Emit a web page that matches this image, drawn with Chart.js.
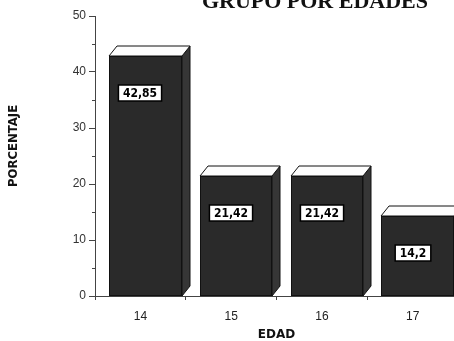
<!DOCTYPE html>
<html>
<head>
<meta charset="utf-8">
<script src="https://cdn.jsdelivr.net/npm/chart.js@4.4.1/dist/chart.umd.min.js"></script>
<style>
  html, body { margin: 0; padding: 0; background: #fff; overflow: hidden; width: 454px; height: 341px; }
  #wrap { position: absolute; left: 0; top: 0; width: 470px; height: 341px; }
</style>
</head>
<body>
<div id="wrap"><canvas id="c" width="470" height="341"></canvas></div>
<script>
// Edades y porcentaje de cada grupo
const edades = ['14', '15', '16', '17'];
const porcentajes = [42.85, 21.42, 21.42, 14.2];
const marcasY = [0, 10, 20, 30, 40, 50];
const marcasMenoresY = [5, 15, 25, 35, 45];
const titulo = 'GRUPO POR EDADES';
const tituloEjeY = 'PORCENTAJE';
const tituloEjeX = 'EDAD';

const fmt = v => String(v).replace('.', ',');

// Barras con cara frontal, superior y lateral, y la etiqueta de valor
const barras3D = {
  id: 'barras3D',
  afterDatasetsDraw(chart) {
    const ctx = chart.ctx;
    const meta = chart.getDatasetMeta(0);
    const dx = 8, dy = 10, shift = 5;
    meta.data.forEach((bar, i) => {
      const { x, y, base, width } = bar.getProps(['x', 'y', 'base', 'width'], true);
      const l = Math.round(x - width / 2 + shift), r = Math.round(x + width / 2 + shift);
      const t = Math.round(y), b = Math.round(base);
      ctx.save();
      ctx.lineWidth = 1;
      ctx.strokeStyle = '#111';
      // lateral
      ctx.beginPath();
      ctx.moveTo(r, t); ctx.lineTo(r + dx, t - dy); ctx.lineTo(r + dx, b - dy); ctx.lineTo(r, b);
      ctx.closePath();
      ctx.fillStyle = '#363636'; ctx.fill(); ctx.stroke();
      // frente
      ctx.fillStyle = '#2a2a2a';
      ctx.fillRect(l, t, r - l, b - t);
      ctx.strokeRect(l + 0.5, t + 0.5, r - l - 1, b - t - 1);
      // tapa
      ctx.beginPath();
      ctx.moveTo(l, t); ctx.lineTo(r, t); ctx.lineTo(r + dx, t - dy); ctx.lineTo(l + dx, t - dy);
      ctx.closePath();
      ctx.fillStyle = '#fdfdfd'; ctx.fill(); ctx.stroke();
      // etiqueta
      const txt = fmt(porcentajes[i]);
      ctx.font = 'bold 12px "Liberation Sans Narrow", "DejaVu Sans Condensed", sans-serif';
      const w = ctx.measureText(txt).width + 9, h = 16;
      const cx = Math.round(x), cy = t + 37;
      ctx.fillStyle = '#fff';
      ctx.fillRect(cx - w / 2, cy - h / 2, w, h);
      ctx.lineWidth = 1.5; ctx.strokeStyle = '#000';
      ctx.strokeRect(cx - w / 2, cy - h / 2, w, h);
      ctx.fillStyle = '#000';
      ctx.textAlign = 'center'; ctx.textBaseline = 'middle';
      ctx.fillText(txt, cx, cy + 1);
      ctx.restore();
    });
  }
};

// Títulos y marcas menores del eje vertical
const textos = {
  id: 'textos',
  afterDraw(chart) {
    const ctx = chart.ctx;
    const ys = chart.scales.y;
    const area = chart.chartArea;
    ctx.save();
    ctx.strokeStyle = '#444'; ctx.lineWidth = 1;
    marcasMenoresY.forEach(v => {
      const py = Math.round(ys.getPixelForValue(v)) + 0.5;
      ctx.beginPath(); ctx.moveTo(area.left - 3, py); ctx.lineTo(area.left, py); ctx.stroke();
    });
    ctx.fillStyle = '#111';
    ctx.font = 'bold 22px "Liberation Serif", "DejaVu Serif", serif';
    ctx.textAlign = 'right'; ctx.textBaseline = 'alphabetic';
    ctx.fillText(titulo, 428, 8);
    ctx.font = 'bold 12px "DejaVu Sans", sans-serif';
    ctx.textAlign = 'center'; ctx.textBaseline = 'middle';
    ctx.fillText(tituloEjeX, (area.left + area.right) / 2, 335);
    ctx.font = 'bold 13px "DejaVu Sans Condensed", "DejaVu Sans", sans-serif';
    ctx.translate(14, 146);
    ctx.rotate(-Math.PI / 2);
    ctx.fillText(tituloEjeY, 0, 0);
    ctx.restore();
  }
};

new Chart(document.getElementById('c'), {
  type: 'bar',
  data: {
    labels: edades,
    datasets: [{
      data: porcentajes,
      backgroundColor: 'rgba(0,0,0,0)',
      borderWidth: 0,
      categoryPercentage: 1,
      barPercentage: 0.8
    }]
  },
  options: {
    responsive: false,
    animation: false,
    devicePixelRatio: 1,
    layout: { padding: { left: 0, top: 16, right: 12, bottom: 0 } },
    plugins: { legend: { display: false }, tooltip: { enabled: false }, title: { display: false } },
    scales: {
      x: {
        offset: true,
        grid: { offset: true, drawOnChartArea: false, tickLength: 4, color: '#444' },
        border: { display: true, color: '#444' },
        ticks: { color: '#222', padding: 9, font: { family: '"Liberation Sans", sans-serif', size: 12 } },
        afterFit: s => { s.height = 45; }
      },
      y: {
        min: 0, max: 50,
        afterBuildTicks: s => { s.ticks = marcasY.map(v => ({ value: v })); },
        grid: { drawOnChartArea: false, tickLength: 6, color: '#444' },
        border: { display: true, color: '#444' },
        ticks: { color: '#333', padding: 3, font: { family: '"Liberation Sans", sans-serif', size: 12 } },
        afterFit: s => { s.width = 95; }
      }
    }
  },
  plugins: [barras3D, textos]
});
</script>
</body>
</html>
